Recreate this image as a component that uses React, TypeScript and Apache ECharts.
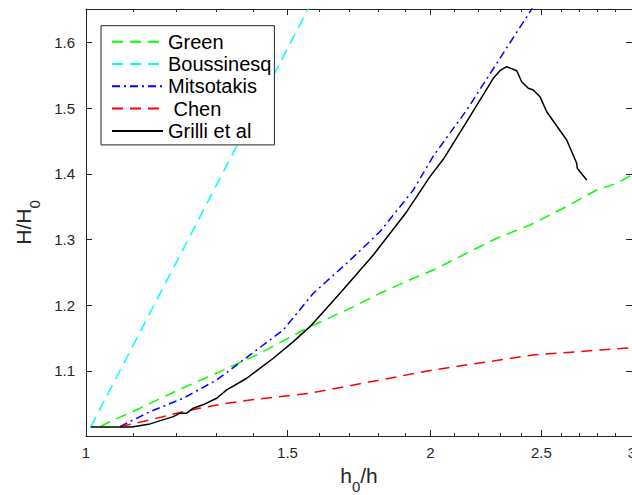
import React, { useEffect, useRef } from 'react';
import * as echarts from 'echarts';

// ---------- data ----------
const seriesNames = ['Green', 'Boussinesq', 'Mitsotakis', ' Chen', 'Grilli et al'];

const greenX = [1.029, 1.0425, 1.1148, 1.2082, 1.3095, 1.4192, 1.5694, 1.6897, 1.8071, 1.9321, 2.0114, 2.1366, 2.285, 2.4434, 2.6127, 2.7943, 2.909, 3.0];
const greenY = [1.0148, 1.0204, 1.0433, 1.0722, 1.0989, 1.1269, 1.1674, 1.1928, 1.2182, 1.241, 1.2536, 1.2765, 1.3019, 1.3221, 1.3475, 1.3753, 1.3855, 1.3981];

const boussX = [1.0095, 1.1, 1.2, 1.3, 1.4, 1.5, 1.6];
const boussY = [1.0148, 1.1397, 1.2662, 1.3826, 1.4904, 1.5907, 1.6846];

const mitsX = [1.0708, 1.1374, 1.2163, 1.3008, 1.391, 1.4873, 1.5799, 1.6897, 1.8067, 1.9321, 2.0114, 2.1513, 2.3001, 2.4434, 2.5];
const mitsY = [1.0153, 1.0381, 1.0585, 1.0863, 1.1243, 1.1624, 1.2182, 1.2638, 1.3119, 1.3753, 1.427, 1.497, 1.5757, 1.6466, 1.675];

const chenX = [1.0708, 1.1374, 1.2163, 1.3008, 1.391, 1.5694, 2.0114, 2.4596, 3.0];
const chenY = [1.0153, 1.0255, 1.0381, 1.0483, 1.0559, 1.0661, 1.1015, 1.1243, 1.1354];

const grilliX = [1.0095, 1.0963, 1.1374, 1.192, 1.2082, 1.2246, 1.241, 1.2705, 1.3008, 1.3273, 1.3818, 1.4577, 1.5176, 1.5694, 1.6671, 1.7826, 1.9066, 1.998, 2.0522, 2.1513, 2.2694, 2.3001, 2.3314, 2.3791, 2.4028, 2.4351, 2.4596, 2.493, 2.5268, 2.6306, 2.6841, 2.6873, 2.7387];
const grilliY = [1.0148, 1.0148, 1.0194, 1.0305, 1.0357, 1.0357, 1.0433, 1.0498, 1.0585, 1.0711, 1.0889, 1.1193, 1.1446, 1.1674, 1.2182, 1.2765, 1.3423, 1.3956, 1.422, 1.4792, 1.5452, 1.5568, 1.5629, 1.5568, 1.5401, 1.53, 1.5274, 1.5173, 1.4944, 1.4514, 1.4159, 1.4083, 1.3905];

const xMajorTicks = [1, 1.5, 2, 2.5, 3];
const xMinorTicks = [1.1, 1.2, 1.3, 1.4, 1.6, 1.7, 1.8, 1.9, 2.1, 2.2, 2.3, 2.4, 2.6, 2.7, 2.8, 2.9];
const yTicks = [1.1, 1.2, 1.3, 1.4, 1.5, 1.6];

const colors = ['#00ff00', '#00ffff', '#0000ff', '#ff0000', '#000000'];
const dashes: any[] = [[11, 7], [11, 7], [8, 4, 2, 4], [11, 7], 'solid'];

const FONT = "'Liberation Sans', Arial, Helvetica, sans-serif";
const AX = '#262626';

const lx = (v: number) => Math.log(v);
const fmtX = (v: number) => {
  const r = Math.round(Math.exp(v) * 10) / 10;
  return String(r);
};

const nameRich = {
  a: { fontSize: 21, verticalAlign: 'top', fontFamily: FONT, color: AX },
  b: { fontSize: 15, verticalAlign: 'bottom', padding: [14, 0, 0, 0], fontFamily: FONT, color: AX },
};

export default function App() {
  const ref = useRef<HTMLDivElement>(null);
  useEffect(() => {
    if (!ref.current) return;
    const chart = echarts.init(ref.current, undefined, { renderer: 'svg' });
    const xs = [greenX, boussX, mitsX, chenX, grilliX];
    const ys = [greenY, boussY, mitsY, chenY, grilliY];
    const xMin = 0;
    const xMax = Math.log(3);
    const baseX = (pos: 'top' | 'bottom', major: boolean, labels: boolean) => ({
      type: 'value',
      position: pos,
      min: xMin,
      max: xMax,
      axisLine: { show: major, onZero: false, lineStyle: { color: AX, width: 1 } },
      axisTick: {
        show: true,
        inside: true,
        length: major ? 6 : 3,
        customValues: (major ? xMajorTicks : xMinorTicks).map(lx),
        lineStyle: { color: AX, width: 1 },
      },
      axisLabel: labels
        ? {
            show: true,
            customValues: xMajorTicks.map(lx),
            formatter: (v: number) => fmtX(v),
            margin: 9,
            fontSize: 15,
            color: AX,
            fontFamily: FONT,
          }
        : { show: false },
      splitLine: { show: false },
    });
    const baseY = (pos: 'left' | 'right', labels: boolean) => ({
      type: 'value',
      position: pos,
      min: 1.001,
      max: 1.6507,
      axisLine: { show: true, onZero: false, lineStyle: { color: AX, width: 1 } },
      axisTick: {
        show: true,
        inside: true,
        length: 6,
        customValues: yTicks,
        lineStyle: { color: AX, width: 1 },
      },
      axisLabel: labels
        ? {
            show: true,
            customValues: yTicks,
            formatter: (v: number) => v.toFixed(1),
            margin: 11,
            fontSize: 15,
            color: AX,
            fontFamily: FONT,
          }
        : { show: false },
      splitLine: { show: false },
    });

    const xAxes: any[] = [
      {
        ...baseX('bottom', true, true),
        name: '{a|h}{b|0}{a|/h}',
        nameLocation: 'middle',
        nameGap: 29,
        nameTextStyle: { color: AX, fontFamily: FONT, rich: nameRich },
      },
      baseX('bottom', false, false),
      baseX('top', true, false),
      baseX('top', false, false),
    ];
    const yAxes: any[] = [
      {
        ...baseY('left', true),
        name: '{a|H/H}{b|0}',
        nameLocation: 'middle',
        nameGap: 44,
        nameRotate: 90,
        nameTextStyle: { color: AX, fontFamily: FONT, rich: nameRich },
      },
      baseY('right', false),
    ];

    const series = seriesNames.map((name, i) => ({
      name,
      type: 'line',
      xAxisIndex: 0,
      yAxisIndex: 0,
      data: xs[i].map((x, j) => [lx(x), ys[i][j]]),
      showSymbol: false,
      symbol: 'none',
      clip: true,
      z: 2 + i,
      lineStyle: { color: colors[i], width: 1.5, type: dashes[i] },
      itemStyle: { color: colors[i] },
    }));

    chart.setOption({
      animation: false,
      backgroundColor: '#ffffff',
      grid: { left: 86, top: 9, right: 0, bottom: 59, containLabel: false, outerBoundsMode: 'none' },
      xAxis: xAxes,
      yAxis: yAxes,
      legend: {
        data: seriesNames,
        orient: 'vertical',
        left: 101,
        top: 25.7,
        padding: [6, 3, 4, 10],
        itemWidth: 51,
        itemHeight: 10,
        itemGap: 2.3,
        itemStyle: { opacity: 0 },
        textStyle: { fontSize: 20, lineHeight: 20, color: '#000', fontFamily: FONT },
        borderColor: AX,
        borderWidth: 1,
        backgroundColor: '#ffffff',
        selectedMode: false,
      },
      series,
    });
    return () => chart.dispose();
  }, []);
  return (
    <div
      ref={ref}
      style={{ position: 'fixed', left: 0, top: 0, width: 632, height: 495, background: '#fff' }}
    />
  );
}
